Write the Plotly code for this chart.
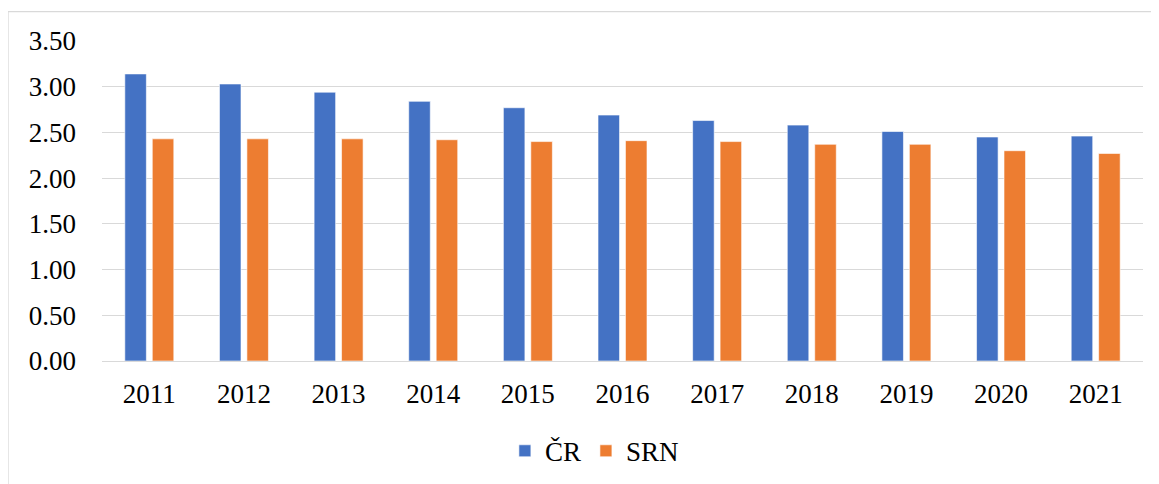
import plotly.graph_objects as go

years = ["2011", "2012", "2013", "2014", "2015", "2016", "2017", "2018", "2019", "2020", "2021"]
cr_values = [3.14, 3.03, 2.94, 2.84, 2.77, 2.69, 2.63, 2.58, 2.51, 2.45, 2.46]
srn_values = [2.43, 2.43, 2.43, 2.42, 2.40, 2.41, 2.40, 2.37, 2.37, 2.30, 2.27]
y_ticks = [0, 0.5, 1.0, 1.5, 2.0, 2.5, 3.0, 3.5]
y_tick_text = ["0.00", "0.50", "1.00", "1.50", "2.00", "2.50", "3.00", "3.50"]

FONT = "Liberation Serif"

fig = go.Figure()
fig.add_trace(go.Bar(x=years, y=cr_values, name="ČR",
                     marker=dict(color="#4472C4", line=dict(color="rgba(255,255,255,0.6)", width=1))))
fig.add_trace(go.Bar(x=years, y=srn_values, name="SRN",
                     marker=dict(color="#ED7D31", line=dict(color="rgba(255,255,255,0.6)", width=1))))

fig.update_layout(
    width=1159, height=484,
    margin=dict(l=94, r=24, t=32.5, b=130.5, autoexpand=False),
    paper_bgcolor="white", plot_bgcolor="white",
    barmode="group", bargap=0.42, bargroupgap=0.215,
    font=dict(family=FONT, size=27, color="black"),
    showlegend=True,
    legend=dict(orientation="h", x=0.473, xanchor="center", y=-0.282, yanchor="middle",
                font=dict(family=FONT, size=27), itemwidth=30, traceorder="normal"),
    xaxis=dict(showgrid=False, showline=False, zeroline=False, ticks="", automargin=False,
               tickfont=dict(family=FONT, size=27), ticklabelstandoff=14),
    yaxis=dict(range=[0, 3.5], tickvals=y_ticks, ticktext=y_tick_text, automargin=False,
               showgrid=True, gridcolor="#D9D9D9", gridwidth=1.3,
               zeroline=True, zerolinecolor="#D9D9D9", zerolinewidth=1.3,
               showline=False, ticks="", tickfont=dict(family=FONT, size=27),
               ticklabelstandoff=25),
    shapes=[dict(type="rect", xref="paper", yref="paper",
                 x0=-0.0903, x1=1.1, y0=-0.6, y1=1.0919,
                 line=dict(color="#D9D9D9", width=1.3), layer="below")],
)

fig.write_html("out.html")
